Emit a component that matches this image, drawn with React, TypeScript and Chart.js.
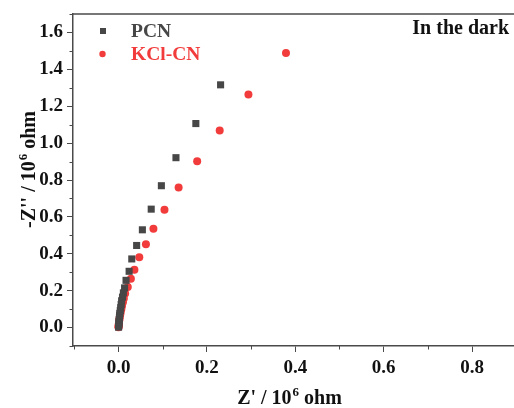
import React, { useEffect, useRef } from "react";
import { Chart, registerables } from "chart.js";

Chart.register(...registerables);

// ---- Data ----
const pcnX = [0.231, 0.175, 0.130, 0.097, 0.074, 0.054, 0.041, 0.030, 0.024, 0.017, 0.0137, 0.011, 0.009, 0.007, 0.006, 0.005, 0.004, 0.003, 0.0025, 0.002, 0.0015, 0.001, 0.0008, 0.0005, 0.0003, 0.0001];
const pcnY = [1.316, 1.106, 0.921, 0.769, 0.642, 0.530, 0.445, 0.372, 0.305, 0.256, 0.215, 0.188, 0.165, 0.145, 0.125, 0.108, 0.092, 0.077, 0.064, 0.052, 0.041, 0.031, 0.022, 0.014, 0.007, 0.002];

const kclX = [0.379, 0.294, 0.229, 0.178, 0.136, 0.104, 0.079, 0.062, 0.047, 0.036, 0.028, 0.021, 0.015, 0.012, 0.010, 0.008, 0.0065, 0.005, 0.004, 0.003, 0.0023, 0.0017, 0.0012, 0.0008, 0.0005, 0.0003, 0.0001, 0.0];
const kclY = [1.488, 1.264, 1.068, 0.901, 0.760, 0.639, 0.536, 0.451, 0.381, 0.314, 0.264, 0.220, 0.184, 0.158, 0.137, 0.118, 0.101, 0.086, 0.072, 0.060, 0.049, 0.039, 0.030, 0.022, 0.015, 0.009, 0.004, 0.001];

const seriesNames = ["PCN", "KCl-CN"];
const xTickValues = [0, 0.2, 0.4, 0.6, 0.8];
const yTickValues = [0, 0.2, 0.4, 0.6, 0.8, 1.0, 1.2, 1.4, 1.6];
const xMinorValues = [-0.1, 0.1, 0.3, 0.5, 0.7];
const yMinorValues = [-0.1, 0.1, 0.3, 0.5, 0.7, 0.9, 1.1, 1.3, 1.5, 1.7];
const annotationText = "In the dark";

// ---- Styles ----
const PCN_COLOR = "#474747";
const KCL_COLOR = "#f23b3b";
const AXIS_COLOR = "#4a4a4a";
const FONT = "'Liberation Serif', 'Times New Roman', serif";

const decor = {
  id: "decor",
  afterDraw(chart: any) {
    const { ctx, chartArea, scales } = chart;
    const xs = scales.x;
    const ys = scales.y;
    ctx.save();
    ctx.strokeStyle = AXIS_COLOR;
    ctx.lineWidth = 1.5;
    // top border
    ctx.beginPath();
    ctx.moveTo(chartArea.left, chartArea.top);
    ctx.lineTo(chartArea.right, chartArea.top);
    ctx.stroke();
    // minor ticks
    ctx.lineWidth = 1;
    for (const v of xMinorValues) {
      const px = Math.round(xs.getPixelForValue(v)) + 0.5;
      ctx.beginPath();
      ctx.moveTo(px, chartArea.bottom);
      ctx.lineTo(px, chartArea.bottom + 3.5);
      ctx.stroke();
    }
    for (const v of yMinorValues) {
      const py = Math.round(ys.getPixelForValue(v)) + 0.5;
      ctx.beginPath();
      ctx.moveTo(chartArea.left - 3.5, py);
      ctx.lineTo(chartArea.left, py);
      ctx.stroke();
    }

    // legend
    ctx.textBaseline = "middle";
    ctx.textAlign = "left";
    ctx.font = `bold 19.5px ${FONT}`;
    ctx.fillStyle = PCN_COLOR;
    ctx.fillRect(100, 28, 6, 6);
    ctx.fillText(seriesNames[0], 131, 32);
    ctx.fillStyle = KCL_COLOR;
    ctx.beginPath();
    ctx.arc(102.5, 54, 3.2, 0, Math.PI * 2);
    ctx.fill();
    ctx.fillText(seriesNames[1], 131, 55);

    // annotation
    ctx.fillStyle = "#111";
    ctx.font = `bold 20px ${FONT}`;
    ctx.textAlign = "right";
    ctx.fillText(annotationText, 509, 29);

    // axis titles with superscript
    const drawTitle = (pre: string, sup: string, post: string, cx: number, cy: number) => {
      const big = `bold 20px ${FONT}`;
      const small = `bold 13px ${FONT}`;
      ctx.font = big;
      const w1 = ctx.measureText(pre).width;
      const w3 = ctx.measureText(post).width;
      ctx.font = small;
      const w2 = ctx.measureText(sup).width;
      const total = w1 + w2 + w3;
      let x = cx - total / 2;
      ctx.textAlign = "left";
      ctx.textBaseline = "alphabetic";
      ctx.font = big;
      ctx.fillText(pre, x, cy + 7);
      x += w1;
      ctx.font = small;
      ctx.fillText(sup, x + 1, cy - 1);
      x += w2 + 1;
      ctx.font = big;
      ctx.fillText(post, x, cy + 7);
    };
    ctx.fillStyle = "#111";
    drawTitle("Z' / 10", "6", " ohm", 289, 397);
    ctx.save();
    ctx.translate(28, 170);
    ctx.rotate(-Math.PI / 2);
    drawTitle("-Z'' / 10", "6", " ohm", 0, 0);
    ctx.restore();

    ctx.restore();
  },
};

export default function App() {
  const ref = useRef<HTMLCanvasElement | null>(null);
  useEffect(() => {
    if (!ref.current) return;
    const chart = new Chart(ref.current, {
      type: "scatter",
      data: {
        datasets: [
          {
            label: seriesNames[0],
            data: pcnX.map((x, i) => ({ x, y: pcnY[i] })),
            pointStyle: "rect",
            pointRadius: 5,
            backgroundColor: PCN_COLOR,
            borderColor: PCN_COLOR,
            borderWidth: 0,
          },
          {
            label: seriesNames[1],
            data: kclX.map((x, i) => ({ x, y: kclY[i] })),
            pointStyle: "circle",
            pointRadius: 4,
            backgroundColor: KCL_COLOR,
            borderColor: KCL_COLOR,
            borderWidth: 0,
          },
        ],
      },
      options: {
        responsive: false,
        animation: false,
        devicePixelRatio: 1,
        layout: { autoPadding: false, padding: { top: 14, right: 0, left: 0, bottom: 0 } },
        plugins: { legend: { display: false }, tooltip: { enabled: false } },
        scales: {
          x: {
            type: "linear",
            min: -0.103,
            max: 0.895,
            afterBuildTicks: (s: any) => {
              s.ticks = xTickValues.map((v) => ({ value: v }));
            },
            afterFit: (s: any) => {
              s.height = 62;
              s.paddingLeft = 0;
              s.paddingRight = 0;
            },
            grid: { display: true, drawOnChartArea: false, drawTicks: true, tickLength: 6, tickColor: AXIS_COLOR, tickWidth: 1 },
            border: { display: true, color: AXIS_COLOR, width: 1.5 },
            ticks: {
              color: "#111",
              font: { family: FONT, size: 19, weight: "bold" },
              padding: 5,
              maxRotation: 0,
              callback: (v: any) => Number(v).toFixed(1),
            },
          },
          y: {
            type: "linear",
            min: -0.1,
            max: 1.7,
            afterBuildTicks: (s: any) => {
              s.ticks = yTickValues.map((v) => ({ value: v }));
            },
            afterFit: (s: any) => {
              s.width = 73;
              s.paddingTop = 0;
              s.paddingBottom = 0;
            },
            grid: { display: true, drawOnChartArea: false, drawTicks: true, tickLength: 6, tickColor: AXIS_COLOR, tickWidth: 1 },
            border: { display: true, color: AXIS_COLOR, width: 1.5 },
            ticks: {
              color: "#111",
              font: { family: FONT, size: 19, weight: "bold" },
              padding: 4,
              callback: (v: any) => Number(v).toFixed(1),
            },
          },
        },
      } as any,
      plugins: [decor],
    });
    return () => chart.destroy();
  }, []);
  return (
    <div style={{ position: "absolute", left: 0, top: 0, width: 514, height: 408, background: "#fff" }}>
      <canvas ref={ref} width={514} height={408} style={{ width: 514, height: 408, display: "block" }} />
    </div>
  );
}
